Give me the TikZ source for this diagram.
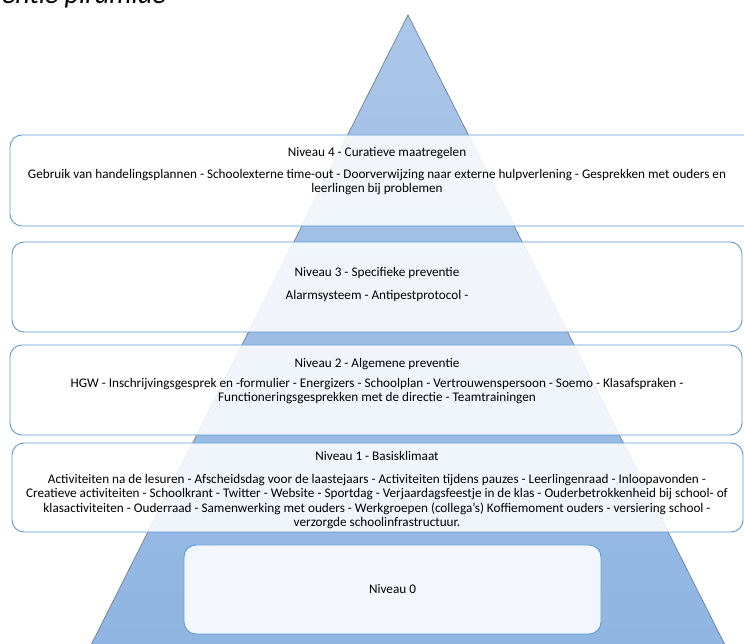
\documentclass[tikz,border=0pt]{standalone}
\usepackage{fontspec}
\setmainfont{Carlito}
\definecolor{boxblue}{HTML}{5B9BD5}
\definecolor{pyrtop}{HTML}{ABC6E8}
\definecolor{pyrbot}{HTML}{8FB5E2}
\definecolor{pyredge}{HTML}{6F7E93}
\definecolor{zerofill}{HTML}{F3F6FB}
\tikzset{
  lvlbox/.style={draw=boxblue, line width=0.9pt, rounded corners=12pt, fill=white, fill opacity=0.86, draw opacity=1},
  zerobox/.style={draw=boxblue, line width=0.9pt, rounded corners=12pt, fill=zerofill},
  lvltext/.style={align=center, font=\fontsize{13.2}{14.5}\selectfont, inner sep=0pt, text=black},
}
\begin{document}
\begin{tikzpicture}[x=1pt,y=1pt]
\useasboundingbox (0,0) rectangle (744,644);
\begin{scope}
\clip (0,0) rectangle (744,644);
\node[anchor=base east, inner sep=0pt, font=\fontsize{28}{32}\selectfont\itshape] (title) at (166,640.5) {Preventie piramide};
\shade[top color=pyrtop, bottom color=pyrbot, draw=pyredge, line width=0.7pt] (408,629) -- (725,-1) -- (91,-1) -- cycle;
% boxes (image y -> 644-y)
\draw[lvlbox] (10,418) rectangle (775,509);
\draw[lvlbox] (12,312) rectangle (742,402);
\draw[lvlbox] (10,209) rectangle (742,299);
\draw[lvlbox] (12,112) rectangle (743,201);
\node[zerobox, minimum width=417pt, minimum height=89pt] (b0) at (392.5,54.5) {};
% texts
\node[lvltext] (t4) at (377,491) {Niveau 4 - Curatieve maatregelen};
\node[lvltext, anchor=north] (d4) at (377,475) {Gebruik van handelingsplannen - Schoolexterne time-out - Doorverwijzing naar externe hulpverlening - Gesprekken met ouders en\\leerlingen bij problemen};
\node[lvltext] (t3) at (377,371) {Niveau 3 - Specifieke preventie};
\node[lvltext] (d3) at (377,348) {Alarmsysteem - Antipestprotocol -};
\node[lvltext] (t2) at (377,280) {Niveau 2 - Algemene preventie};
\node[lvltext, anchor=north] (d2) at (377,266) {HGW - Inschrijvingsgesprek en -formulier - Energizers - Schoolplan - Vertrouwenspersoon - Soemo - Klasafspraken -\\Functioneringsgesprekken met de directie - Teamtrainingen};
\node[lvltext] (t1) at (377,188) {Niveau 1 - Basisklimaat};
\node[lvltext, anchor=north] (d1) at (377,170) {Activiteiten na de lesuren - Afscheidsdag voor de laastejaars - Activiteiten tijdens pauzes - Leerlingenraad - Inloopavonden -\\Creatieve activiteiten - Schoolkrant - Twitter - Website - Sportdag - Verjaardagsfeestje in de klas - Ouderbetrokkenheid bij school- of\\klasactiviteiten - Ouderraad - Samenwerking met ouders - Werkgroepen (collega's) Koffiemoment ouders - versiering school -\\verzorgde schoolinfrastructuur.};
\node[lvltext] (t0) at (b0.center) {Niveau 0};
\end{scope}
\end{tikzpicture}
\end{document}
